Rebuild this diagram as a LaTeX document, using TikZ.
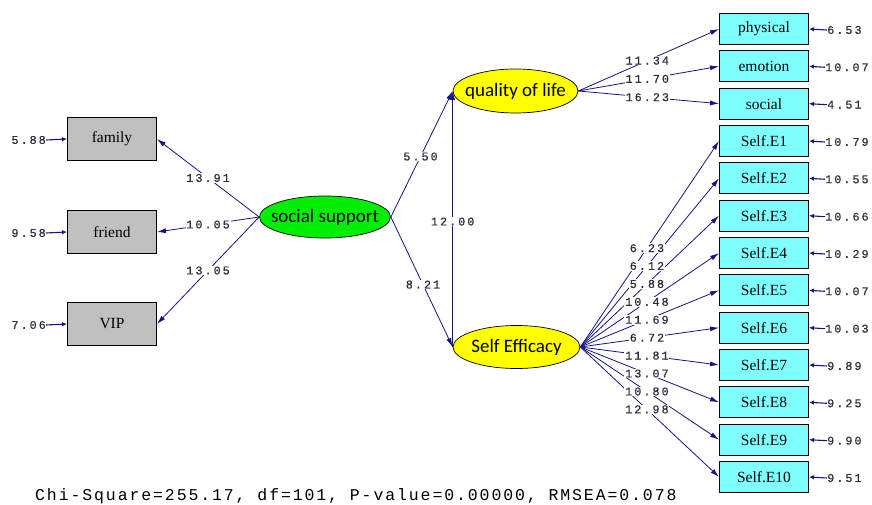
\documentclass[tikz,border=0pt]{standalone}
\usepackage{fontspec}
\usetikzlibrary{arrows.meta,shapes.geometric}
\newfontfamily\boxfont{Liberation Serif}
\newfontfamily\latfont{Carlito}
\newfontfamily\numfont[LetterSpace=17,FakeBold=0.6]{Liberation Mono}
\newfontfamily\chifont[LetterSpace=11.5]{Liberation Mono}
\definecolor{boxgray}{RGB}{192,192,192}
\definecolor{boxcyan}{RGB}{128,255,255}
\definecolor{latgreen}{RGB}{0,238,0}
\definecolor{latyellow}{RGB}{255,255,0}
\definecolor{linenavy}{RGB}{20,20,130}
\definecolor{numcol}{RGB}{50,45,60}
\begin{document}
\begin{tikzpicture}[x=1pt,y=-1pt,
  obsbox/.style={draw=black, line width=0.9pt, minimum width=89pt, inner sep=0pt,
    font=\boxfont\fontsize{15.5}{18}\selectfont},
  graybox/.style={obsbox, fill=boxgray, minimum height=43pt},
  cyanbox/.style={obsbox, fill=boxcyan, minimum height=31pt},
  latent/.style={ellipse, draw=black, line width=0.7pt, inner sep=0pt},
  lattext/.style={font=\latfont\fontsize{19}{22}\selectfont, inner sep=0pt},
  sempath/.style={draw=linenavy, line width=0.8pt, -{Latex[length=9pt,width=5pt]}},
  coef/.style={font=\numfont\fontsize{11.8}{13}\selectfont, text=numcol, fill=white, inner sep=0.8pt},
  errlab/.style={font=\numfont\fontsize{11.8}{13}\selectfont, text=numcol, inner sep=0pt},
  errarrow/.style={draw=linenavy, line width=1.1pt, -{Latex[length=5pt,width=4.5pt]}}
]
\useasboundingbox (0,0) rectangle (872,505);

% observed variables, left
\node[graybox] (fam) at (112,139) {family};
\node[graybox] (fri) at (112,232) {friend};
\node[graybox] (vip) at (112,324) {VIP};

% latent variables
\node[latent, fill=latgreen, minimum width=131pt, minimum height=42pt,
  label={[lattext]center:social support}] (ss) at (325,217) {};
\node[latent, fill=latyellow, minimum width=125pt, minimum height=44pt,
  label={[lattext]center:quality of life}] (qol) at (515.5,91) {};
\node[latent, fill=latyellow, minimum width=127pt, minimum height=43pt,
  label={[lattext]center:Self Efficacy}] (se) at (516.5,347) {};

% observed variables, right
\node[cyanbox] (phy) at (764,29) {physical};
\node[cyanbox] (emo) at (764,66.3) {emotion};
\node[cyanbox] (soc) at (764,103.7) {social};
\foreach \i/\yy in {1/141,2/178.3,3/215.7,4/253,5/290.3,6/327.7,7/365,8/402.3,9/439.7,10/477}{
  \node[cyanbox] (e\i) at (764,\yy) {Self.E\i};
}

% structural paths
\draw[sempath] (ss.east) -- node[coef, pos=0.48] (c1) {5.50} (qol.west);
\draw[sempath] (ss.east) -- node[coef, pos=0.52] (c2) {8.21} (se.west);
\draw[sempath] (se.west) -- node[coef, pos=0.49] (c3) {12.00} (qol.west);

% social support loadings
\draw[sempath] (ss.west) -- node[coef, pos=0.5] (c4) {13.91} (fam.east);
\draw[sempath] (ss.west) -- node[coef, pos=0.5] (c5) {10.05} (fri.east);
\draw[sempath] (ss.west) -- node[coef, pos=0.5] (c6) {13.05} (vip.east);

% quality of life loadings
\draw[sempath] (qol.east) -- (phy.west);
\draw[sempath] (qol.east) -- (emo.west);
\draw[sempath] (qol.east) -- (soc.west);
\path (qol.east) -- node[coef, pos=0.49] (c7) {11.34} (phy.west);
\path (qol.east) -- node[coef, pos=0.49] (c8) {11.70} (emo.west);
\path (qol.east) -- node[coef, pos=0.49] (c9) {16.23} (soc.west);

% self efficacy loadings
\foreach \i in {1,...,10}{
  \draw[sempath] (se.east) -- (e\i.west);
}
\foreach \i/\c in {1/6.23,2/6.12,3/5.88,4/10.48,5/11.69,6/6.72,7/11.81,8/13.07,9/10.80,10/12.98}{
  \path (se.east) -- node[coef, pos=0.48] (ce\i) {\c} (e\i.west);
}

% error variances, left
\node[errlab, anchor=east] (efam) at (46,140) {5.88};
\node[errlab, anchor=east] (efri) at (46,233) {9.58};
\node[errlab, anchor=east] (evip) at (46,325) {7.06};
\draw[errarrow] (efam.east) -- (fam.west);
\draw[errarrow] (efri.east) -- (fri.west);
\draw[errarrow] (evip.east) -- (vip.west);

% error variances, right
\node[errlab, anchor=west] (ephy) at (827,30) {6.53};
\node[errlab, anchor=west] (eemo) at (825,67.3) {10.07};
\node[errlab, anchor=west] (esoc) at (827,104.7) {4.51};
\draw[errarrow] (ephy.west) -- (phy.east);
\draw[errarrow] (eemo.west) -- (emo.east);
\draw[errarrow] (esoc.west) -- (soc.east);
\foreach \i/\v/\xx in {1/10.79/825,2/10.55/825,3/10.66/825,4/10.29/825,5/10.07/825,6/10.03/825,7/9.89/827,8/9.25/827,9/9.90/827,10/9.51/827}{
  \node[errlab, anchor=west] (ee\i) at ([yshift=-1pt]e\i.east -| \xx,0) {\v};
  \draw[errarrow] (ee\i.west) -- (e\i.east);
}

% fit statistics
\node[anchor=west, inner sep=0pt, font=\chifont\fontsize{16.5}{18}\selectfont] (fit) at (35,496)
  {Chi-Square=255.17, df=101, P-value=0.00000, RMSEA=0.078};
\end{tikzpicture}
\end{document}
